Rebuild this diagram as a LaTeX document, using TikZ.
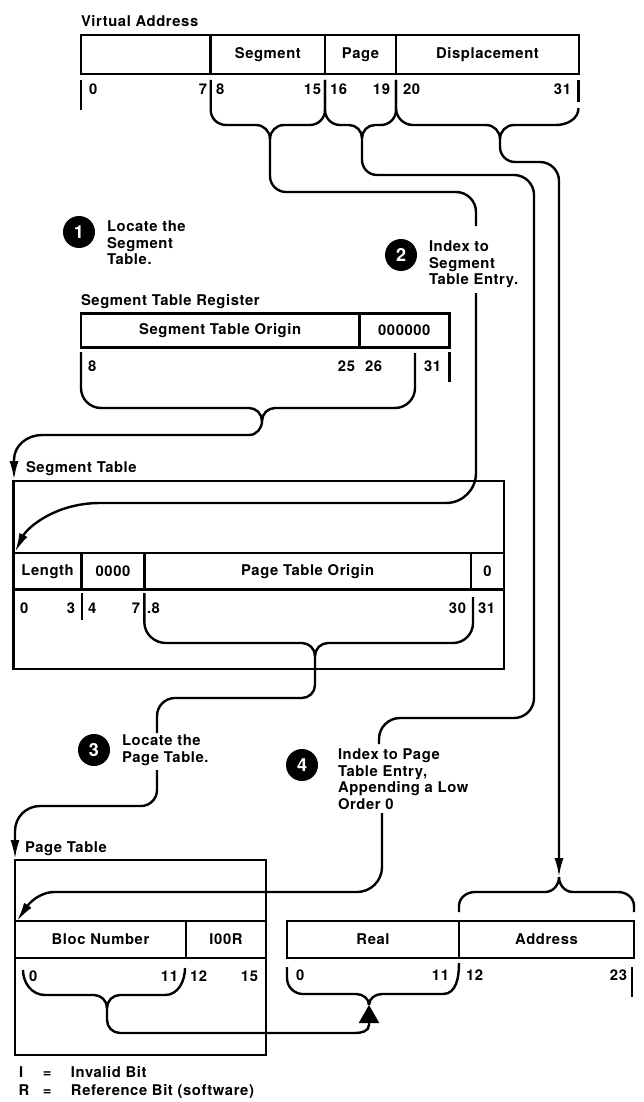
\documentclass[tikz,border=0pt]{standalone}
\usepackage{fontspec}
\setmainfont{TeX Gyre Heros}[LetterSpace=4]
\usetikzlibrary{arrows.meta}
\begin{document}
\begin{tikzpicture}[x=1pt,y=-1pt,
  txt/.style={font=\fontsize{14.8}{16.5}\selectfont\bfseries, inner sep=0pt, outer sep=0pt},
  field/.style={txt, draw, line width=2.6pt, anchor=north west},
  tblframe/.style={draw, line width=2.6pt, anchor=north west, inner sep=0pt, outer sep=0pt},
  lbl/.style={txt, anchor=base west},
  lblr/.style={txt, anchor=base east},
  tickmark/.style={line width=2.4pt},
  conn/.style={line width=2.4pt},
  arr/.style={conn, -{Latex[length=19pt,width=9pt]}},
  triarr/.style={conn, -{Triangle[length=18pt,width=20pt]}},
  stepnum/.style={circle, fill=black, minimum size=32pt, inner sep=0pt, text=white, font=\fontsize{18}{18}\selectfont\bfseries},
  steptxt/.style={txt, align=left, anchor=west}]
\useasboundingbox (0,0) rectangle (644,1102);

% ---------- Virtual address ----------
\node[lbl] (vatitle) at (81,27) {Virtual Address};
\node[field, minimum width=129.7pt, minimum height=39pt] (vblank) at (81,35) {};
\node[field, minimum width=114.3pt, minimum height=39pt] (vseg) at (210.7,35) {Segment};
\node[field, minimum width=71pt, minimum height=39pt] (vpage) at (325,35) {Page};
\node[field, minimum width=183pt, minimum height=39pt] (vdisp) at (396,35) {Displacement};
\node[lbl] (v0) at (89,95) {0};
\node[lblr] (v7) at (207,95) {7};
\node[lbl] (v8) at (216,95) {8};
\node[lblr] (v15) at (321,95) {15};
\node[lbl] (v16) at (330,95) {16};
\node[lblr] (v19) at (390,95) {19};
\node[lbl] (v20) at (403,95) {20};
\node[lblr] (v31) at (571,95) {31};
\draw[tickmark] (81,80) -- (81,110);
\draw[tickmark] (578.5,80) -- (578.5,102);

% ---------- Steps ----------
\node[stepnum] (c1) at (79,232) {1};
\node[steptxt] (s1t) at (107,243) {Locate the\\Segment\\Table.};
\node[stepnum] (c2) at (401,255) {2};
\node[steptxt] (s2t) at (429,264.5) {Index to\\Segment\\Table Entry.};
\node[stepnum] (c3) at (94,750) {3};
\node[steptxt] (s3t) at (122,750) {Locate the\\Page Table.};
\node[stepnum] (c4) at (302,765) {4};
\node[steptxt] (s4t) at (338,779) {Index to Page\\Table Entry,\\Appending a Low\\Order 0};

\coordinate (s2top) at (476,226);
\coordinate (s2bot) at (476,293);
\coordinate (s3top) at (157,733);
\coordinate (s3bot) at (157,770);
\coordinate (s4top) at (379,744);
\coordinate (s4bot) at (382,813);

% ---------- Segment table register ----------
\node[lbl] (strtitle) at (81,305) {Segment Table Register};
\node[field, minimum width=278.3pt, minimum height=34pt] (rso) at (81,313.3) {Segment Table Origin};
\node[field, minimum width=90pt, minimum height=34pt] (rzero) at (359.3,313.3) {000000};
\node[lbl] (r8) at (88,371) {8};
\node[lblr] (r25) at (355,371) {25};
\node[lbl] (r26) at (365,371) {26};
\node[lbl] (r31) at (424,371) {31};
\draw[tickmark] (449.3,352) -- (449.3,382);

% ---------- Segment table ----------
\node[lbl] (sttitle) at (26,472) {Segment Table};
\node[tblframe, minimum width=490.5pt, minimum height=188pt] (stf) at (13.5,481) {};
\node[field, minimum width=68.2pt, minimum height=36.5pt] (slen) at (13.5,553) {Length};
\node[field, minimum width=62.6pt, minimum height=36.5pt] (szero) at (81.7,553) {0000};
\node[field, minimum width=326.7pt, minimum height=36.5pt] (spto) at (144.3,553) {Page Table Origin};
\node[field, minimum width=33pt, minimum height=36.5pt] (sz) at (471,553) {0};
\node[lbl] (t0) at (20,613) {0};
\node[lblr] (t3) at (75,613) {3};
\node[lbl] (t4) at (88,613) {4};
\node[lblr] (t7) at (140,613) {7};
\node[lbl] (t8) at (147,613) {.8};
\node[lblr] (t30) at (466,613) {30};
\node[lbl] (t31) at (478,613) {31};
\draw[tickmark] (81.7,593) -- (81.7,620);

% ---------- Page table ----------
\node[lbl] (pttitle) at (25,852) {Page Table};
\node[tblframe, minimum width=251pt, minimum height=195pt] (ptf) at (15,860) {};
\node[field, minimum width=171pt, minimum height=37pt] (pbn) at (15,921) {Bloc Number};
\node[field, minimum width=80pt, minimum height=37pt] (pflag) at (186,921) {I00R};
\node[lbl] (p0) at (29,981) {0};
\node[lblr] (p11) at (178,981) {11};
\node[lbl] (p12) at (190,981) {12};
\node[lblr] (p15) at (258,981) {15};

% ---------- Real address ----------
\node[field, minimum width=172pt, minimum height=37pt] (rreal) at (287,921) {Real};
\node[field, minimum width=175pt, minimum height=37pt] (raddr) at (459,921) {Address};
\node[lbl] (a0) at (296,980) {0};
\node[lblr] (a11) at (449,980) {11};
\node[lbl] (a12) at (466,980) {12};
\node[lblr] (a23) at (627,980) {23};
\draw[tickmark] (632,967) -- (632,997);

% ---------- Legend ----------
\node[lbl] (leg1) at (19,1077) {\makebox[24pt][l]{I}\makebox[28pt][l]{=}Invalid Bit};
\node[lbl] (leg2) at (18.5,1095) {\makebox[24.5pt][l]{R}\makebox[28pt][l]{=}Reference Bit (software)};

% ---------- Target coordinates ----------
\coordinate (adtip) at (559,877);
\coordinate (stentry) at (14,480);
\coordinate (stentry2) at (15,552);
\coordinate (ptentry) at (15,859);
\coordinate (ptentry2) at (17,921);
\coordinate (rtip) at (369,1005);

% ---------- Connectors ----------
% segment field -> step 2
\draw[conn] (210.7,80) -- (210.7,110) to[out=-90,in=180] (226,125) -- (256,125) to[out=0,in=90] (270,139)
  -- (270,176) to[out=-90,in=180] (286,192) -- (456,192) to[out=0,in=90] (476,212) -- (s2top);
\draw[conn] (325,80) -- (325,110) to[out=-90,in=0] (310,125) -- (284,125) to[out=180,in=90] (270,139);
% page field -> step 4
\draw[conn] (325,80) -- (325,110) to[out=-90,in=180] (340,125) -- (349,125) to[out=0,in=90] (362,138)
  -- (362,160) to[out=-90,in=180] (377,175) -- (514,175) to[out=0,in=90] (534,195)
  -- (534,698) to[out=-90,in=0] (514,718) -- (400,718) to[out=180,in=90] (379,739) -- (s4top);
\draw[conn] (396,80) -- (396,110) to[out=-90,in=0] (381,125) -- (375,125) to[out=180,in=90] (362,138);
% displacement -> address
\draw[arr] (396,80) -- (396,108) to[out=-90,in=180] (413,125) -- (486,125) to[out=0,in=90] (500,139)
  -- (500,147) to[out=-90,in=180] (515,162) -- (540,162) to[out=0,in=90] (559,181) -- (adtip);
\draw[conn] (578.5,108) to[out=-90,in=0] (556,125) -- (514,125) to[out=180,in=90] (500,139);
% address brace
\draw[conn] (459,912) -- (459,906) to[out=90,in=180] (475,892) -- (545,892) to[out=0,in=-90] (adtip);
\draw[conn] (634,912) -- (634,906) to[out=90,in=0] (618,892) -- (573,892) to[out=180,in=-90] (adtip);

% register brace -> segment table
\draw[arr] (81,352) -- (81,388) to[out=-90,in=180] (101,408) -- (249,408) to[out=0,in=90] (262,421)
  to[out=-90,in=0] (249,435) -- (42,435) to[out=180,in=90] (14,460) -- (stentry);
\draw[conn] (415,353) -- (415,388) to[out=-90,in=0] (395,408) -- (275,408) to[out=180,in=90] (262,421);

% step 2 -> segment table entry
\draw[arr] (s2bot) -- (476,473) to[out=-90,in=0] (446,503) -- (100,503) .. controls (55,503) and (27,528) .. (stentry2);

% segment table brace -> step 3
\draw[conn] (144.3,593) -- (144.3,622) to[out=-90,in=180] (166,643) -- (302,643) to[out=0,in=90] (315,656)
  -- (315,685) to[out=-90,in=0] (302,698) -- (175,698) to[out=180,in=90] (157,716) -- (s3top);
\draw[conn] (473,597) -- (473,623) to[out=-90,in=0] (453,643) -- (328,643) to[out=180,in=90] (315,656);

% step 3 -> page table
\draw[arr] (s3bot) -- (157,790) to[out=-90,in=0] (141,806) -- (40,806) to[out=180,in=90] (15,831) -- (ptentry);

% step 4 -> page table entry
\draw[arr] (s4bot) -- (382,867) to[out=-90,in=0] (357,892) -- (55,892) .. controls (38,892) and (28,905) .. (ptentry2);

% page table brace -> real
\draw[triarr] (23,970) to[out=-90,in=180] (45,995) -- (94,995) to[out=0,in=90] (107,1008)
  -- (107,1020) to[out=-90,in=180] (120,1033) -- (355,1033) to[out=0,in=-90] (369,1025) -- (rtip);
\draw[conn] (185,968) to[out=-90,in=0] (165,995) -- (120,995) to[out=180,in=90] (107,1008);
% real brace
\draw[conn] (287,967) -- (287,978) to[out=-90,in=180] (303,994) -- (356,994) to[out=0,in=90] (rtip);
\draw[conn] (459,963) to[out=-90,in=0] (443,994) -- (382,994) to[out=180,in=90] (rtip);
\end{tikzpicture}
\end{document}
